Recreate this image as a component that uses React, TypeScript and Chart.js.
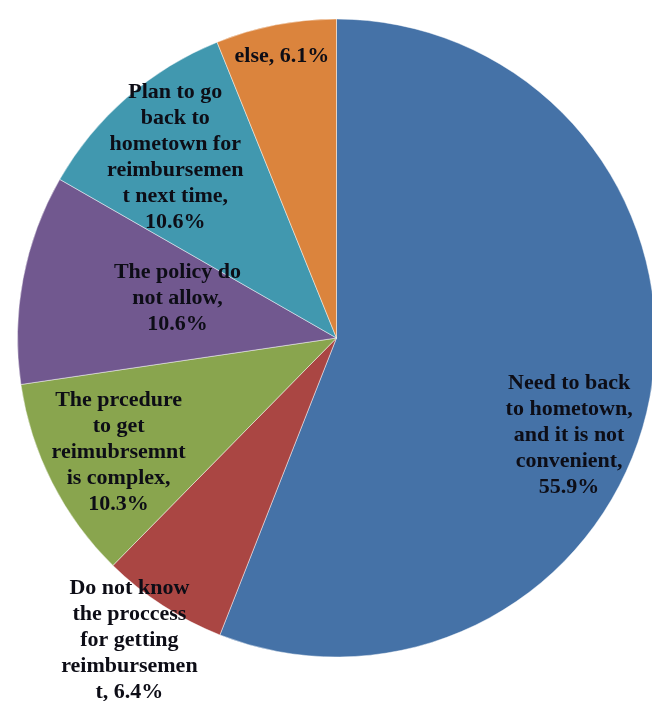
import React, { useEffect, useRef } from "react";
import { Chart, registerables } from "chart.js";

Chart.register(...registerables);

const categories: string[] = [
  "Need to back to hometown, and it is not convenient",
  "Do not know the proccess for getting reimbursement",
  "The prcedure to get reimubrsemnt is complex",
  "The policy do not allow",
  "Plan to go back to hometown for reimbursement next time",
  "else",
];

const shares: number[] = [55.9, 6.4, 10.3, 10.6, 10.6, 6.1];

const labelLines: string[][] = [
  ["Need to back", "to hometown,", "and it is not", "convenient,", "55.9%"],
  ["Do not know", "the proccess", "for getting", "reimbursemen", "t, 6.4%"],
  ["The prcedure", "to get", "reimubrsemnt", "is complex,", "10.3%"],
  ["The policy do", "not allow,", "10.6%"],
  ["Plan to go", "back to", "hometown for", "reimbursemen", "t next time,", "10.6%"],
  ["else, 6.1%"],
];

const sliceColors: string[] = ["#4572A7", "#AA4643", "#89A54E", "#71588F", "#4198AF", "#DB843D"];

// label placement: fraction of radius and angle nudge (degrees) relative to slice mid-angle
const labelPlacement = [
  { frac: 0.79, da: 11.9 },
  { frac: 1.15, da: 1.4 },
  { frac: 0.771, da: -0.7 },
  { frac: 0.514, da: 3.4 },
  { frac: 0.76, da: -0.6 },
  { frac: 0.898, da: 0 },
];

const sliceLabelPlugin = {
  id: "sliceLabels",
  afterDatasetsDraw(chart: any) {
    const meta = chart.getDatasetMeta(0);
    const ctx = chart.ctx;
    ctx.save();
    ctx.font = "bold 22px 'Liberation Serif', 'Times New Roman', serif";
    ctx.fillStyle = "#0d0d16";
    ctx.textAlign = "center";
    ctx.textBaseline = "middle";
    const lh = 26;
    meta.data.forEach((arc: any, i: number) => {
      const p = arc.getProps(["x", "y", "startAngle", "endAngle", "outerRadius"], true);
      const place = labelPlacement[i];
      const mid = (p.startAngle + p.endAngle) / 2 + (place.da * Math.PI) / 180;
      const r = p.outerRadius * place.frac;
      const cx = p.x + Math.cos(mid) * r;
      const cy = p.y + Math.sin(mid) * r;
      const lines = labelLines[i];
      const top = cy - ((lines.length - 1) * lh) / 2;
      lines.forEach((ln, k) => ctx.fillText(ln, cx, top + k * lh));
    });
    ctx.restore();
  },
};

export default function App() {
  const ref = useRef<HTMLCanvasElement | null>(null);
  useEffect(() => {
    if (!ref.current) return;
    const chart = new Chart(ref.current, {
      type: "pie",
      data: {
        labels: categories,
        datasets: [
          {
            data: shares,
            backgroundColor: sliceColors,
            borderColor: "rgba(255,255,255,0.45)",
            borderWidth: 1,
            radius: 319,
            clip: false,
          } as any,
        ],
      },
      options: {
        animation: false,
        responsive: true,
        maintainAspectRatio: false,
        layout: { padding: { left: 21, right: 0, top: 0, bottom: 25 } },
        plugins: {
          legend: { display: false },
          tooltip: { enabled: false },
        },
      },
      plugins: [sliceLabelPlugin],
    });
    return () => chart.destroy();
  }, []);
  return (
    <div style={{ position: "fixed", left: 0, top: 0, width: 652, height: 701, background: "#fff" }}>
      <canvas ref={ref} />
    </div>
  );
}
